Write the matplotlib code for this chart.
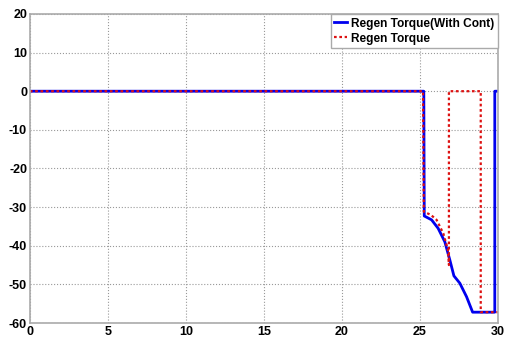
import numpy as np
import matplotlib
matplotlib.use('Agg')
from matplotlib import pyplot as plt

plt.rcParams['font.family'] = ['Liberation Sans', 'DejaVu Sans']
plt.rcParams['font.weight'] = 'bold'
plt.rcParams['axes.unicode_minus'] = False

# regen torque with controller
t_cont = [0, 25.25, 25.28, 25.75, 26.17, 26.6, 26.92, 27.18, 27.56, 27.99, 28.38, 29.8, 29.8, 30]
tq_cont = [0, 0, -32.3, -33.3, -35.5, -39.0, -43.7, -47.8, -49.7, -53.2, -57.2, -57.2, 0, 0]

# regen torque without controller
t_reg = [0, 25.2, 25.25, 25.7, 26.07, 26.5, 26.8, 26.86, 26.86, 28.9, 28.9, 30]
tq_reg = [0, 0, -31.2, -32.0, -33.3, -36.8, -41.1, -45.0, 0, 0, -57.2, -57.2]

fig = plt.figure(figsize=(5.06, 3.40), dpi=100)
ax = fig.add_axes([0.059, 0.05, 0.925, 0.909])

ax.plot(t_cont, tq_cont, color='#0000ee', lw=2, label='Regen Torque(With Cont)')
ax.plot(t_reg, tq_reg, color='#dd1111', lw=1.6, ls=(0, (1.2, 1.2)), label='Regen Torque')

ax.set_xlim(0, 30)
ax.set_ylim(-60, 20)
ax.set_xticks(np.arange(0, 31, 5))
ax.set_yticks(np.arange(-60, 21, 10))
ax.grid(True, color='#999999', ls=':', lw=0.8)
for s in ax.spines.values():
    s.set_color('#aaaaaa')
    s.set_linewidth(1.2)
ax.tick_params(labelsize=9, length=0, pad=2)

leg = ax.legend(loc='upper right', fontsize=8.6, handlelength=1.1, handletextpad=0.3,
                borderpad=0.3, labelspacing=0.25, fancybox=False, framealpha=1,
                borderaxespad=0)
leg.get_frame().set_edgecolor('#aaaaaa')
for txt in leg.get_texts():
    txt.set_fontweight('bold')

fig.savefig('out.png', dpi=100)
